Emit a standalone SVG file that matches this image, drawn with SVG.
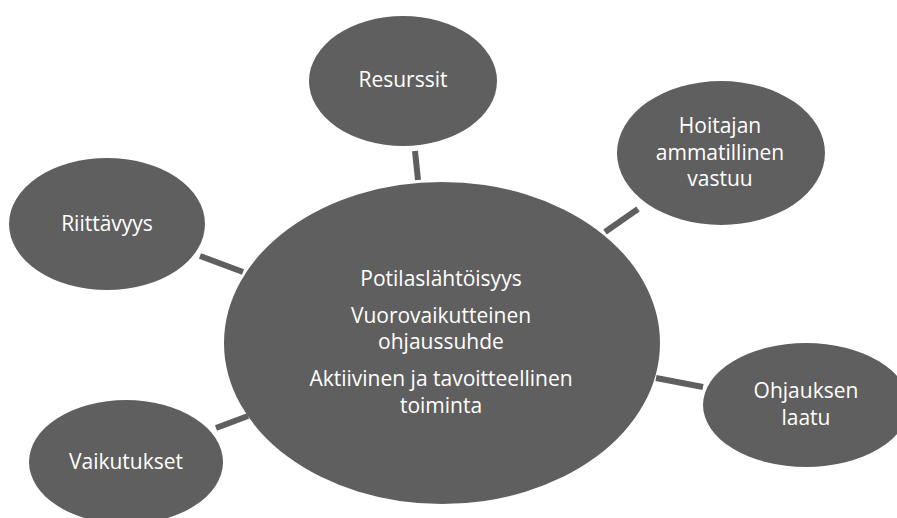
<svg xmlns="http://www.w3.org/2000/svg" width="897" height="518" viewBox="0 0 897 518">
<style>
.n{fill:#5f5f5f}
.c{stroke:#5f5f5f;stroke-width:6;fill:none}
text{font-family:"Open Sans","Noto Sans",sans-serif;font-size:21px;fill:#ffffff;text-anchor:middle}
</style>
<rect width="897" height="518" fill="#ffffff"/>
<g id="connectors">
<line class="c" x1="415" y1="151" x2="418" y2="180"/>
<line class="c" x1="200" y1="256" x2="243" y2="272"/>
<line class="c" x1="638" y1="209" x2="605" y2="232"/>
<line class="c" x1="656" y1="378" x2="703" y2="387"/>
<line class="c" x1="216" y1="428" x2="248" y2="416"/>
</g>
<g id="center">
<ellipse class="n" cx="442" cy="343" rx="218" ry="161"/>
<text x="441" y="286">Potilaslähtöisyys</text>
<text x="441" y="323">Vuorovaikutteinen</text>
<text x="441" y="349">ohjaussuhde</text>
<text x="441" y="386">Aktiivinen ja tavoitteellinen</text>
<text x="441" y="413">toiminta</text>
</g>
<g id="resurssit">
<ellipse class="n" cx="403" cy="81" rx="94" ry="65"/>
<text x="403" y="87">Resurssit</text>
</g>
<g id="hoitajan">
<ellipse class="n" cx="721" cy="153" rx="104" ry="72"/>
<text x="720" y="133">Hoitajan</text>
<text x="720" y="160">ammatillinen</text>
<text x="720" y="186">vastuu</text>
</g>
<g id="riittavyys">
<ellipse class="n" cx="107" cy="224" rx="98" ry="66"/>
<text x="107" y="231">Riittävyys</text>
</g>
<g id="ohjauksen">
<ellipse class="n" cx="806" cy="405" rx="103" ry="62"/>
<text x="806" y="398">Ohjauksen</text>
<text x="806" y="425">laatu</text>
</g>
<g id="vaikutukset">
<ellipse class="n" cx="126" cy="462" rx="97" ry="62"/>
<text x="126" y="469">Vaikutukset</text>
</g>
</svg>
